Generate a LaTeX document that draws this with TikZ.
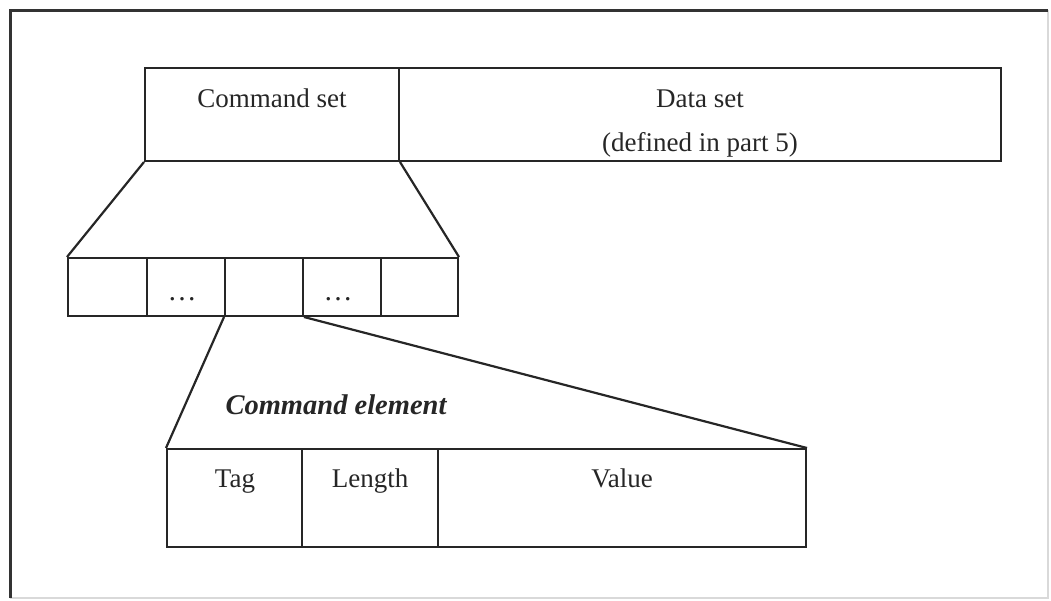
\documentclass[tikz,border=0pt]{standalone}
\usepackage{fontspec}
\setmainfont{Liberation Serif}
\begin{document}
\begin{tikzpicture}[x=1pt,y=-1pt,
  cell/.style={draw=black!85, line width=2pt, inner sep=0pt, minimum height=#1},
  txt/.style={font=\fontsize{27}{30}\selectfont, text=black!85, inner sep=0pt, anchor=base},
  link/.style={draw=black!85, line width=2.2pt}]
\useasboundingbox (0,0) rectangle (1051,600);
% outer frame
\draw[black!15, line width=1.5pt] (1048,10) -- (1048,598) -- (10,598);
\draw[black!80, line width=3pt] (10,598) -- (10,10) -- (1048,10);
% top boxes
\node[cell=93pt, minimum width=254pt] (cmd) at (272,114.5) {};
\node[cell=93pt, minimum width=602pt] (data) at (700,114.5) {};
\node[txt] (cmdt) at (272,107) {Command set};
\node[txt] (datat) at (700,107) {Data set};
\node[txt] (datat2) at (700,151) {(defined in part 5)};
% middle row
\node[cell=58pt, minimum width=79pt] (m1) at (107.5,287) {};
\node[cell=58pt, minimum width=78pt] (m2) at (186,287) {};
\node[cell=58pt, minimum width=78pt] (m3) at (264,287) {};
\node[cell=58pt, minimum width=78pt] (m4) at (342,287) {};
\node[cell=58pt, minimum width=77pt] (m5) at (419.5,287) {};
\node[txt, font=\fontsize{29}{30}\selectfont] (d2) at (182,300) {…};
\node[txt, font=\fontsize{29}{30}\selectfont] (d4) at (338,300) {…};
% bottom row
\node[cell=98pt, minimum width=135pt] (tag) at (234.5,498) {};
\node[cell=98pt, minimum width=136pt] (len) at (370,498) {};
\node[cell=98pt, minimum width=368pt] (val) at (622,498) {};
\node[txt] (tagt) at (235,487) {Tag};
\node[txt] (lent) at (370,487) {Length};
\node[txt] (valt) at (622,487) {Value};
\node[txt, font=\fontsize{28.5}{30}\selectfont\bfseries\itshape] (ce) at (336,414) {Command element};
% connectors
\draw[link] (cmd.south west) -- (m1.north west);
\draw[link] (cmd.south east) -- (m5.north east);
\draw[link] (m3.south west) -- (tag.north west);
\draw[link] (m3.south east) -- (val.north east);
\end{tikzpicture}
\end{document}
